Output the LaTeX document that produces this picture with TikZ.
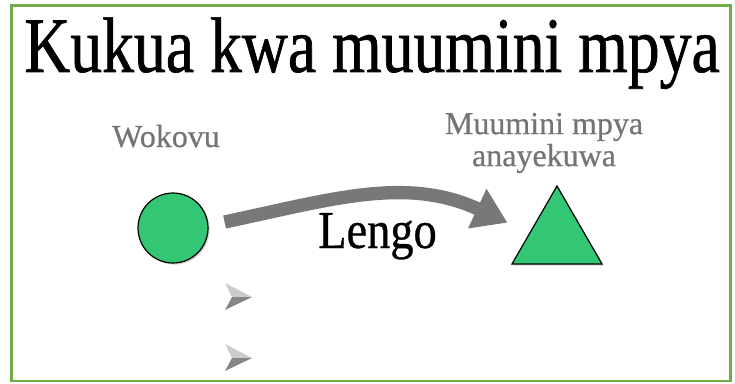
\documentclass[tikz,border=0pt]{standalone}
\usepackage{fontspec}
\setmainfont{Liberation Serif}
\newfontfamily\titlefont[FakeStretch=0.81,FakeBold=0.8]{Liberation Serif}
\newfontfamily\goalfont[FakeStretch=0.87,FakeBold=0.6]{Liberation Serif}
\newfontfamily\lblfont[FakeBold=0.6]{Liberation Serif}
\usepackage{tikz}
\usetikzlibrary{arrows.meta}
\usetikzlibrary{shapes}
\usetikzlibrary{shadows}
\usetikzlibrary{positioning}
\definecolor{framegreen}{HTML}{70AD47}
\definecolor{shapegreen}{HTML}{33C775}
\definecolor{arrowgray}{HTML}{787878}
\definecolor{labelgray}{HTML}{747474}
\tikzset{
  shapenode/.style = {draw=black, line width=0.9pt, fill=shapegreen,
    inner sep=0pt, drop shadow={shadow xshift=1.2pt, shadow yshift=-1.2pt,
    opacity=0.35}},
  startnode/.style = {shapenode, circle, minimum size=52.5pt},% wokovu
  goalnode/.style = {shapenode, regular polygon, regular polygon sides=3,
    minimum size=78pt},% muumini mpya
  lbl/.style = {text=labelgray, font=\lblfont\fontsize{24}{24}\selectfont,
    inner sep=0pt, align=center},
  bigarrow/.style = {draw=arrowgray, line width=10pt,
    -{Triangle[length=25pt,width=31pt]}}
}

\begin{document}
\begin{tikzpicture}[x=0.75pt,y=0.75pt]
\useasboundingbox (0,0) rectangle (735,383);
\draw[framegreen, line width=2.2pt] (11.5,2) rectangle (730.5,377.5);

\node[anchor=base, inner sep=0pt] (title) at (372,311)
  {\titlefont\fontsize{59}{60}\selectfont Kukua kwa muumini mpya};

\node[startnode] (circ) at (173,155) {};
\node[goalnode] (tri) at (557,145) {};

\node[lbl, anchor=base] (wokovu) at (166,236) {Wokovu};
\node[lbl] (muumini) at (544,240) {Muumini mpya\\anayekuwa};

\draw[bigarrow] ([shift={(16,6)}]circ.east) to[out=12,in=155]
  ([shift={(-26.5,2)}]tri.side 1);
\node[anchor=base, inner sep=0pt] (lengo) at (377.5,135)
  {\goalfont\fontsize{40}{40}\selectfont Lengo};

% vitone
\foreach \y in {86,25} {
  \fill[gray!40] (225,\y+14) -- (252,\y) -- (232,\y) -- cycle;
  \fill[gray!95] (232,\y) -- (252,\y) -- (225,\y-13) -- cycle;
}
\end{tikzpicture}
\end{document}
